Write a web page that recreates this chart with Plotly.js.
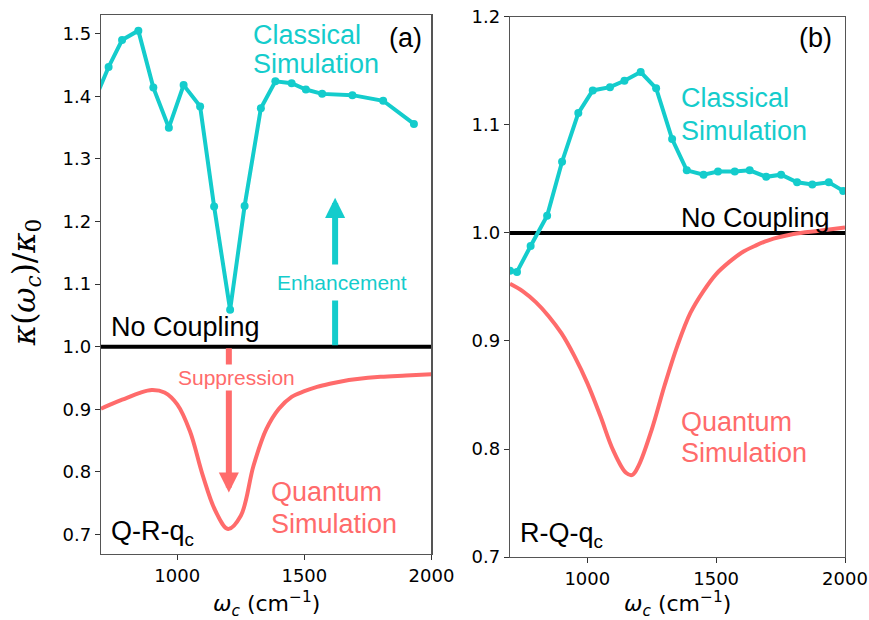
<!DOCTYPE html>
<html>
<head>
<meta charset="utf-8">
<script src="https://cdn.plot.ly/plotly-3.0.1.min.js"></script>
<style>html,body{margin:0;padding:0;background:#fff;}#chart{width:869px;height:620px;}</style>
</head>
<body>
<div id="chart"></div>
<script>
// ---- data ----
var classicalA_x = [670, 730, 783, 847, 906, 967, 1025, 1090, 1145, 1208, 1265, 1329, 1386, 1450, 1506, 1570, 1689, 1810, 1931];
var classicalA_y = [1.389, 1.447, 1.490, 1.505, 1.414, 1.350, 1.418, 1.384, 1.224, 1.059, 1.225, 1.381, 1.424, 1.421, 1.411, 1.404, 1.402, 1.393, 1.356];

var quantumA_x = [700, 750, 800, 850, 900, 950, 1000, 1050, 1100, 1150, 1200, 1250, 1300, 1350, 1400, 1450, 1500, 1550, 1600, 1650, 1700, 1800, 1900, 2000];
var quantumA_y = [0.901, 0.910, 0.918, 0.926, 0.931, 0.927, 0.908, 0.865, 0.795, 0.738, 0.709, 0.730, 0.810, 0.868, 0.901, 0.920, 0.929, 0.936, 0.941, 0.945, 0.948, 0.952, 0.954, 0.956];

var classicalB_x = [700, 727, 780, 844, 902, 965, 1021, 1088, 1144, 1207, 1267, 1329, 1386, 1451, 1507, 1572, 1630, 1694, 1752, 1814, 1873, 1937, 1993];
var classicalB_y = [0.965, 0.964, 0.988, 1.016, 1.066, 1.111, 1.132, 1.135, 1.141, 1.149, 1.134, 1.087, 1.058, 1.054, 1.057, 1.057, 1.058, 1.052, 1.054, 1.047, 1.045, 1.047, 1.039];

var quantumB_x = [700, 750, 800, 850, 900, 950, 1000, 1050, 1100, 1150, 1175, 1200, 1250, 1300, 1350, 1400, 1450, 1500, 1550, 1600, 1650, 1700, 1800, 1900, 2000];
var quantumB_y = [0.953, 0.946, 0.936, 0.923, 0.907, 0.886, 0.861, 0.831, 0.799, 0.778, 0.776, 0.785, 0.818, 0.859, 0.896, 0.926, 0.946, 0.962, 0.973, 0.982, 0.988, 0.993, 0.999, 1.002, 1.005];

var noCoupling_x = [700, 2000];
var noCoupling_y = [1.0, 1.0];

var xTicks = [1000, 1500, 2000];
var yTicksA = [0.7, 0.8, 0.9, 1.0, 1.1, 1.2, 1.3, 1.4, 1.5];
var yTicksB = [0.7, 0.8, 0.9, 1.0, 1.1, 1.2];

// ---- styling ----
var CYAN = '#14CCCC';
var RED = '#FF6B6B';
var SANS = 'Liberation Sans, Arial, sans-serif';

var traces = [
  {x: noCoupling_x, y: noCoupling_y, xaxis: 'x', yaxis: 'y', mode: 'lines', line: {color: '#000', width: 4}},
  {x: quantumA_x, y: quantumA_y, xaxis: 'x', yaxis: 'y', mode: 'lines', line: {color: RED, width: 4, shape: 'spline', smoothing: 1}},
  {x: classicalA_x, y: classicalA_y, xaxis: 'x', yaxis: 'y', mode: 'lines+markers', line: {color: CYAN, width: 4}, marker: {color: CYAN, size: 8}},
  {x: noCoupling_x, y: noCoupling_y, xaxis: 'x2', yaxis: 'y2', mode: 'lines', line: {color: '#000', width: 4}},
  {x: quantumB_x, y: quantumB_y, xaxis: 'x2', yaxis: 'y2', mode: 'lines', line: {color: RED, width: 4, shape: 'spline', smoothing: 1}},
  {x: classicalB_x, y: classicalB_y, xaxis: 'x2', yaxis: 'y2', mode: 'lines+markers', line: {color: CYAN, width: 4}, marker: {color: CYAN, size: 8}}
];

function xAxis(domain, anchor) {
  return {domain: domain, anchor: anchor, range: [700, 2000], tickvals: xTicks, ticks: 'outside', ticklen: 5,
    tickcolor: '#333', showline: true, linecolor: '#555', linewidth: 1.2, mirror: true, showgrid: false, zeroline: false,
    tickfont: {family: 'DejaVu Sans', size: 18, color: '#000'}};
}
function yAxis(domain, anchor, range, vals) {
  return {domain: domain, anchor: anchor, range: range, tickvals: vals, tickformat: '.1f', ticks: 'outside', ticklen: 5,
    tickcolor: '#333', showline: true, linecolor: '#555', linewidth: 1.2, mirror: true, showgrid: false, zeroline: false,
    tickfont: {family: 'DejaVu Sans', size: 18, color: '#000'}};
}

function txt(t, x, y, xr, yr, color, size, anchor) {
  return {text: t, x: x, y: y, xref: xr, yref: yr, showarrow: false, xanchor: anchor || 'left', yanchor: 'middle',
    font: {family: SANS, size: size, color: color}};
}

var annotations = [
  // arrows
  {text: '', x: 1621, y: 1.238, ax: 1621, ay: 1.0, xref: 'x', yref: 'y', axref: 'x', ayref: 'y', showarrow: true,
   arrowhead: 2, arrowsize: 0.67, arrowwidth: 6, arrowcolor: CYAN, standoff: 0, startstandoff: 0},
  {text: '', x: 1203, y: 0.767, ax: 1203, ay: 1.0, xref: 'x', yref: 'y', axref: 'x', ayref: 'y', showarrow: true,
   arrowhead: 2, arrowsize: 0.67, arrowwidth: 6, arrowcolor: RED, standoff: 0, startstandoff: 0},
  // panel (a) labels
  Object.assign(txt('Enhancement', 1649, 1.103, 'x', 'y', CYAN, 21, 'center'), {bgcolor: '#fff', borderpad: 6}),
  Object.assign(txt('Suppression', 1232, 0.951, 'x', 'y', RED, 21, 'center'), {bgcolor: '#fff', borderpad: 1}),
  txt('Classical', 1289, 1.498, 'x', 'y', CYAN, 27),
  txt('Simulation', 1289, 1.451, 'x', 'y', CYAN, 27),
  txt('(a)', 1899, 1.493, 'x', 'y', '#000', 27, 'center'),
  txt('No Coupling', 730, 1.031, 'x', 'y', '#000', 27),
  txt('Quantum', 1359, 0.768, 'x', 'y', RED, 27),
  txt('Simulation', 1359, 0.717, 'x', 'y', RED, 27),
  txt('Q-R-q<sub>c</sub>', 733, 0.703, 'x', 'y', '#000', 27),
  // panel (b) labels
  txt('(b)', 1886, 1.181, 'x2', 'y2', '#000', 27, 'center'),
  txt('Classical', 1354, 1.1246, 'x2', 'y2', CYAN, 27),
  txt('Simulation', 1354, 1.0943, 'x2', 'y2', CYAN, 27),
  txt('No Coupling', 1354, 1.0142, 'x2', 'y2', '#000', 27),
  txt('Quantum', 1354, 0.8252, 'x2', 'y2', RED, 27),
  txt('Simulation', 1354, 0.796, 'x2', 'y2', RED, 27),
  txt('R-Q-q<sub>c</sub>', 732, 0.720, 'x2', 'y2', '#000', 27),
  // axis titles
  {text: '<i>ω</i><sub><i>c</i></sub> (cm<sup>−1</sup>)', x: 0.3065, y: 0.026, xref: 'paper', yref: 'paper', showarrow: false,
   xanchor: 'center', yanchor: 'middle', font: {family: 'DejaVu Sans', size: 22, color: '#000'}},
  {text: '<i>ω</i><sub><i>c</i></sub> (cm<sup>−1</sup>)', x: 0.7797, y: 0.026, xref: 'paper', yref: 'paper', showarrow: false,
   xanchor: 'center', yanchor: 'middle', font: {family: 'DejaVu Sans', size: 22, color: '#000'}},
  {text: '<i>κ</i>(<i>ω</i><sub><i>c</i></sub>)/<i>κ</i><sub>0</sub>', x: 0.030, y: 0.545, xref: 'paper', yref: 'paper',
   showarrow: false, textangle: -90, xanchor: 'center', yanchor: 'middle', font: {family: 'DejaVu Serif', size: 31, color: '#000'}}
];

var layout = {
  width: 869, height: 620,
  margin: {l: 0, r: 0, t: 0, b: 0},
  paper_bgcolor: '#fff', plot_bgcolor: '#fff',
  showlegend: false,
  xaxis: xAxis([0.1162, 0.4965], 'y'),
  yaxis: yAxis([0.1065, 0.9758], 'x', [0.669, 1.530], yTicksA),
  xaxis2: xAxis([0.5869, 0.9724], 'y2'),
  yaxis2: yAxis([0.1016, 0.9726], 'x2', [0.7, 1.2], yTicksB),
  annotations: annotations
};

Plotly.newPlot('chart', traces, layout, {staticPlot: true, displayModeBar: false});
</script>
</body>
</html>
